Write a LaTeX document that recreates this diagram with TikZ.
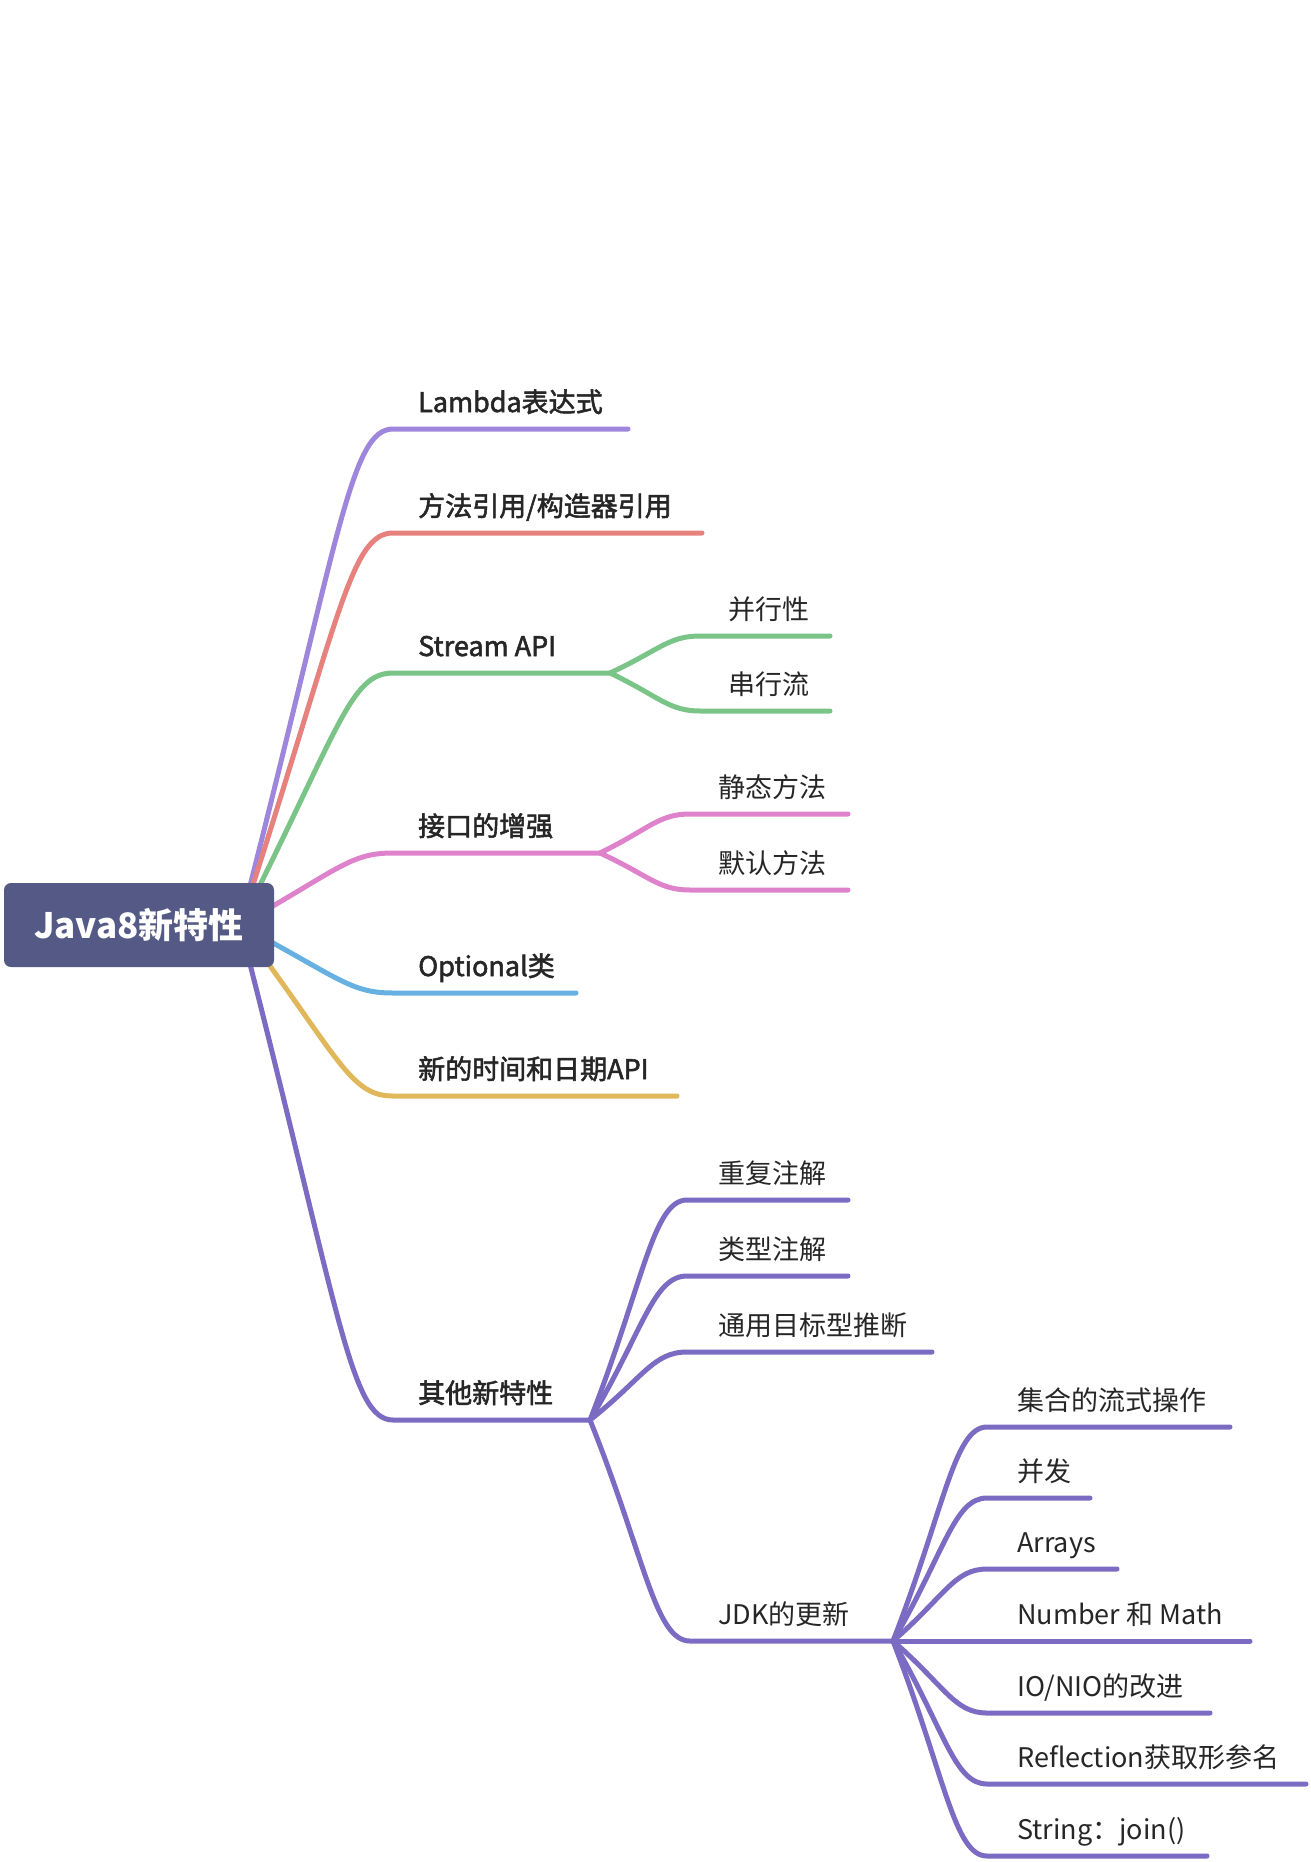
\documentclass[tikz,border=0pt]{standalone}
\usepackage{fontspec}
\setmainfont{Noto Sans CJK SC}
\newfontfamily\medfont{Noto Sans CJK SC}[FakeBold=2]
\usetikzlibrary{calc}
\definecolor{lamc}{HTML}{9D86DB}
\definecolor{refc}{HTML}{E6817E}
\definecolor{strc}{HTML}{7AC488}
\definecolor{ifcc}{HTML}{DE82CC}
\definecolor{optc}{HTML}{66B0E2}
\definecolor{timc}{HTML}{E0B75A}
\definecolor{othc}{HTML}{7C6BC2}
\definecolor{rootc}{HTML}{545A85}
\definecolor{txt}{HTML}{262626}
\newcommand\mybranch[4]{%
  \draw[conn,#1] let \p1=(#2),\p2=(#3) in (\p1)
    .. controls ({\x1+0.65*(\x2-\x1)},{\y1+0.78*(\y2-\y1)}) and ({\x1+0.72*(\x2-\x1)},{\y2}) .. (\p2) -- (#4);}
\newcommand\mysub[4]{%
  \draw[conn,#1] let \p1=(#2),\p2=(#3) in (\p1)
    .. controls ({\x1+0.55*(\x2-\x1)},{\y1+0.62*(\y2-\y1)}) and ({\x1+0.65*(\x2-\x1)},{\y2}) .. (\p2) -- (#4);}
\begin{document}
\begin{tikzpicture}[x=1pt,y=-1pt,
  conn/.style={line width=5pt,line cap=round,line join=round},
  lone/.style={anchor=base west,inner sep=0pt,font=\fontsize{27}{32}\medfont,text=txt},
  ltwo/.style={anchor=base west,inner sep=0pt,font=\fontsize{27}{32}\selectfont,text=txt},
  rootbox/.style={fill=rootc,rounded corners=7pt,minimum width=270pt,minimum height=84pt,inner sep=0pt,text=white,font=\fontsize{35}{40}\selectfont\bfseries}]
\useasboundingbox (0,0) rectangle (1310,1862);
% coordinates
\coordinate (o) at (240,925);
\coordinate (lamC) at (393,429);  \coordinate (lamE) at (628,429);
\coordinate (refC) at (393,533);  \coordinate (refE) at (702,533);
\coordinate (strC) at (393,673);  \coordinate (strB) at (610,673);
\coordinate (ifcC) at (393,853);  \coordinate (ifcB) at (600,853);
\coordinate (optC) at (393,993);  \coordinate (optE) at (576,993);
\coordinate (timC) at (393,1096); \coordinate (timE) at (677,1096);
\coordinate (othC) at (393,1420); \coordinate (othB) at (590,1420);
\coordinate (parC) at (700,636);  \coordinate (parE) at (830,636);
\coordinate (serC) at (700,711);  \coordinate (serE) at (830,711);
\coordinate (staC) at (690,814);  \coordinate (staE) at (848,814);
\coordinate (defC) at (690,890);  \coordinate (defE) at (848,890);
\coordinate (repC) at (687,1200); \coordinate (repE) at (848,1200);
\coordinate (typC) at (687,1276); \coordinate (typE) at (848,1276);
\coordinate (infC) at (687,1352); \coordinate (infE) at (932,1352);
\coordinate (jdkC) at (690,1641); \coordinate (jdkB) at (893,1641);
\coordinate (colC) at (987,1427); \coordinate (colE) at (1230,1427);
\coordinate (conC) at (987,1498); \coordinate (conE) at (1090,1498);
\coordinate (arrC) at (987,1569); \coordinate (arrE) at (1117,1569);
\coordinate (numE) at (1250,1641);
\coordinate (ioC) at (987,1713);  \coordinate (ioE) at (1210,1713);
\coordinate (rflC) at (987,1784); \coordinate (rflE) at (1306,1784);
\coordinate (sjnC) at (987,1856); \coordinate (sjnE) at (1207,1856);
% level 1 connectors
\mybranch{lamc}{o}{lamC}{lamE}
\mybranch{refc}{o}{refC}{refE}
\mybranch{strc}{o}{strC}{strB}
\mybranch{ifcc}{o}{ifcC}{ifcB}
\mybranch{optc}{o}{optC}{optE}
\mybranch{timc}{o}{timC}{timE}
\mybranch{othc}{o}{othC}{othB}
% level 2 connectors
\mysub{strc}{strB}{parC}{parE}
\mysub{strc}{strB}{serC}{serE}
\mysub{ifcc}{ifcB}{staC}{staE}
\mysub{ifcc}{ifcB}{defC}{defE}
\mysub{othc}{othB}{repC}{repE}
\mysub{othc}{othB}{typC}{typE}
\mysub{othc}{othB}{infC}{infE}
\mysub{othc}{othB}{jdkC}{jdkB}
% level 3 connectors
\mysub{othc}{jdkB}{colC}{colE}
\mysub{othc}{jdkB}{conC}{conE}
\mysub{othc}{jdkB}{arrC}{arrE}
\draw[conn,othc] (jdkB) -- (numE);
\mysub{othc}{jdkB}{ioC}{ioE}
\mysub{othc}{jdkB}{rflC}{rflE}
\mysub{othc}{jdkB}{sjnC}{sjnE}
% root
\node[rootbox] (root) at (139,925) {Java8新特性};
% level 1 labels
\node[lone] (tLam) at (418,412) {Lambda表达式};
\node[lone] (tRef) at (418,516) {方法引用/构造器引用};
\node[lone] (tStr) at (418,656) {Stream API};
\node[lone] (tIfc) at (418,836) {接口的增强};
\node[lone] (tOpt) at (418,976) {Optional类};
\node[lone] (tTim) at (418,1079) {新的时间和日期API};
\node[lone] (tOth) at (418,1403) {其他新特性};
% level 2 labels
\node[ltwo] (tPar) at (728,619) {并行性};
\node[ltwo] (tSer) at (728,694) {串行流};
\node[ltwo] (tSta) at (718,797) {静态方法};
\node[ltwo] (tDef) at (718,873) {默认方法};
\node[ltwo] (tRep) at (718,1183) {重复注解};
\node[ltwo] (tTyp) at (718,1259) {类型注解};
\node[ltwo] (tInf) at (718,1335) {通用目标型推断};
\node[ltwo] (tJdk) at (718,1624) {JDK的更新};
% level 3 labels
\node[ltwo] (tCol) at (1017,1410) {集合的流式操作};
\node[ltwo] (tCon) at (1017,1481) {并发};
\node[ltwo] (tArr) at (1017,1552) {Arrays};
\node[ltwo] (tNum) at (1017,1624) {Number 和 Math};
\node[ltwo] (tIo)  at (1017,1696) {IO/NIO的改进};
\node[ltwo] (tRfl) at (1017,1767) {Reflection获取形参名};
\node[ltwo] (tSjn) at (1017,1839) {String：join()};
\end{tikzpicture}
\end{document}
